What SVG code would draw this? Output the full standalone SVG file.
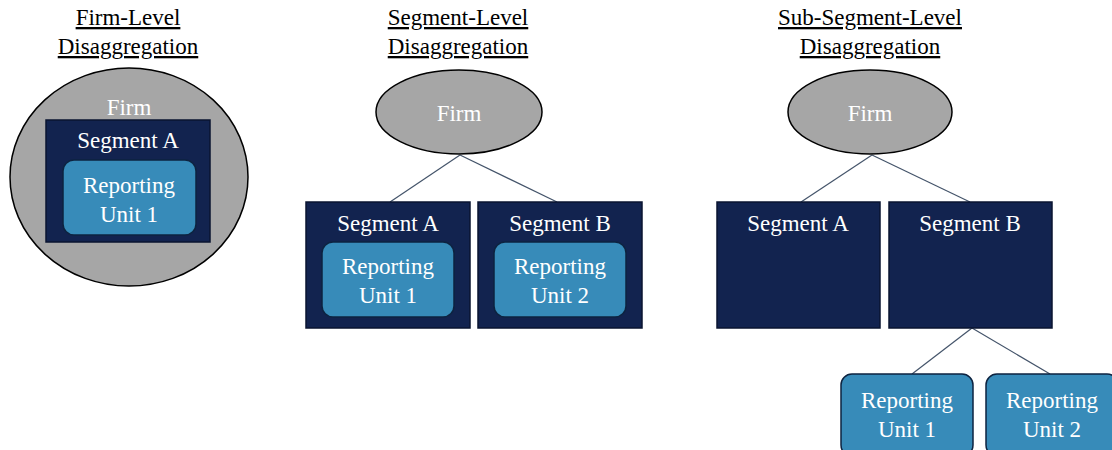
<svg xmlns="http://www.w3.org/2000/svg" width="1112" height="450" viewBox="0 0 1112 450">
  <style>
    text { font-family: "Liberation Serif", "Times New Roman", serif; font-size: 23px; text-anchor: middle; }
    .title { fill: #000; text-decoration: underline; }
    .lbl { fill: #ffffff; }
    .firm { fill: #a6a6a6; stroke: #000; stroke-width: 1.5; }
    .seg { fill: #12234f; stroke: #0a1430; stroke-width: 1.5; }
    .ru { fill: #378bb9; stroke: #0d2340; stroke-width: 1.5; }
    .link { stroke: #44546a; stroke-width: 1.2; fill: none; }
  </style>
  <rect width="1112" height="450" fill="#ffffff"/>

  <!-- Column titles -->
  <g id="titles">
    <text class="title" x="128" y="25">Firm-Level</text>
    <text class="title" x="128" y="54">Disaggregation</text>
    <text class="title" x="458" y="25">Segment-Level</text>
    <text class="title" x="458" y="54">Disaggregation</text>
    <text class="title" x="870" y="25">Sub-Segment-Level</text>
    <text class="title" x="870" y="54">Disaggregation</text>
  </g>

  <!-- Connectors -->
  <g id="connectors">
    <line class="link" x1="460" y1="155" x2="390" y2="202"/>
    <line class="link" x1="460" y1="155" x2="557" y2="202"/>
    <line class="link" x1="872" y1="155" x2="801" y2="202"/>
    <line class="link" x1="872" y1="155" x2="970" y2="202"/>
    <line class="link" x1="972" y1="328" x2="912" y2="374"/>
    <line class="link" x1="972" y1="328" x2="1050" y2="374"/>
  </g>

  <!-- Firm-level: nested -->
  <g id="firm1">
    <ellipse class="firm" cx="129" cy="177" rx="119" ry="109"/>
    <text class="lbl" x="129" y="115">Firm</text>
  </g>
  <g id="segA1">
    <rect class="seg" x="46" y="120" width="164" height="122"/>
    <text class="lbl" x="128" y="148">Segment A</text>
  </g>
  <g id="ru1a">
    <rect class="ru" x="63" y="160" width="133" height="75" rx="11"/>
    <text class="lbl" x="129" y="193">Reporting</text>
    <text class="lbl" x="129" y="222">Unit 1</text>
  </g>

  <!-- Segment-level -->
  <g id="firm2">
    <ellipse class="firm" cx="459" cy="112" rx="83" ry="42"/>
    <text class="lbl" x="459" y="121">Firm</text>
  </g>
  <g id="segA2">
    <rect class="seg" x="306" y="202" width="164" height="126"/>
    <text class="lbl" x="388" y="231">Segment A</text>
  </g>
  <g id="ru1b">
    <rect class="ru" x="322" y="242" width="132" height="75" rx="11"/>
    <text class="lbl" x="388" y="274">Reporting</text>
    <text class="lbl" x="388" y="303">Unit 1</text>
  </g>
  <g id="segB2">
    <rect class="seg" x="478" y="202" width="164" height="126"/>
    <text class="lbl" x="560" y="231">Segment B</text>
  </g>
  <g id="ru2b">
    <rect class="ru" x="494" y="242" width="132" height="75" rx="11"/>
    <text class="lbl" x="560" y="274">Reporting</text>
    <text class="lbl" x="560" y="303">Unit 2</text>
  </g>

  <!-- Sub-segment-level -->
  <g id="firm3">
    <ellipse class="firm" cx="870" cy="112" rx="82" ry="42"/>
    <text class="lbl" x="870" y="121">Firm</text>
  </g>
  <g id="segA3">
    <rect class="seg" x="717" y="202" width="163" height="126"/>
    <text class="lbl" x="798" y="231">Segment A</text>
  </g>
  <g id="segB3">
    <rect class="seg" x="889" y="202" width="163" height="126"/>
    <text class="lbl" x="970" y="231">Segment B</text>
  </g>
  <g id="ru1c">
    <rect class="ru" x="841" y="374" width="132" height="82" rx="11"/>
    <text class="lbl" x="907" y="408">Reporting</text>
    <text class="lbl" x="907" y="437">Unit 1</text>
  </g>
  <g id="ru2c">
    <rect class="ru" x="986" y="374" width="132" height="82" rx="11"/>
    <text class="lbl" x="1052" y="408">Reporting</text>
    <text class="lbl" x="1052" y="437">Unit 2</text>
  </g>
</svg>
